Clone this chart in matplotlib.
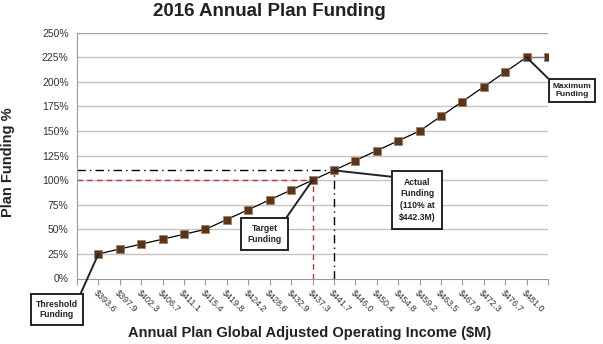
import matplotlib
matplotlib.use("Agg")
import matplotlib.pyplot as plt

plt.rcParams['font.family'] = ['Liberation Sans', 'DejaVu Sans']
plt.rcParams['text.parse_math'] = False

# ---- data ----
income_labels = ["$393.6", "$397.9", "$402.3", "$406.7", "$411.1", "$415.4",
                 "$419.8", "$424.2", "$428.6", "$432.9", "$437.3", "$441.7",
                 "$446.0", "$450.4", "$454.8", "$459.2", "$463.5", "$467.9",
                 "$472.3", "$476.7", "$481.0", ""]
funding_pct = [25, 30, 35, 40, 45, 50, 60, 70, 80, 90, 100, 110,
               120, 130, 140, 150, 165, 180, 195, 210, 225, 225]
y_ticks = [0, 25, 50, 75, 100, 125, 150, 175, 200, 225, 250]
target_idx = 10
actual_idx = 11
threshold_idx = 0
max_idx = 20

W, H = 603, 344
fig = plt.figure(figsize=(W / 100, H / 100), dpi=100)
ax = fig.add_axes([77 / W, 1 - 278.5 / H, 471 / W, 245.8 / H])

xs = list(range(1, len(funding_pct) + 1))

ax.set_xlim(0, len(funding_pct))
ax.set_ylim(0, 250)

# grid
for yv in y_ticks[1:]:
    ax.axhline(yv, color='#c4c4c4' if yv < 250 else '#a0a0a0', lw=1.0, zorder=0)

for s in ['top', 'right']:
    ax.spines[s].set_visible(False)
ax.spines['left'].set_color('#999999')
ax.spines['bottom'].set_color('#999999')

ax.set_yticks(y_ticks)
ax.set_yticklabels([f"{v}%" for v in y_ticks], fontsize=7.5, color='#333333')
ax.set_xticks(range(0, len(funding_pct) + 1))
ax.set_xticklabels([""] + income_labels, fontsize=6.5, color='#333333',
                   rotation=-45, ha='left', va='top', rotation_mode='anchor')
ax.tick_params(axis='x', direction='out', length=4, color='#999999', pad=3)
ax.tick_params(axis='y', length=0, pad=6)

# reference lines
tx, ty = xs[target_idx], funding_pct[target_idx]
axx, axy = xs[actual_idx], funding_pct[actual_idx]
ax.plot([0, tx], [ty, ty], color='#cc3333', lw=1.0, ls=(0, (4, 3)), zorder=2)
ax.plot([tx, tx], [0, ty], color='#cc3333', lw=1.0, ls=(0, (4, 3)), zorder=2)
ax.plot([0, axx], [axy, axy], color='black', lw=1.0, ls=(0, (6, 3, 1, 3)), zorder=2)
ax.plot([axx, axx], [0, axy], color='black', lw=1.0, ls=(0, (6, 3, 1, 3)), zorder=2)

# data line
ax.plot(xs[:-1], funding_pct[:-1], color='black', lw=0.9, zorder=3)
ax.plot(xs[-2:], funding_pct[-2:], color='#808080', lw=1.0, zorder=3)
ax.plot(xs, funding_pct, ls='none', marker='s', markersize=5.6,
        markerfacecolor='#5c3417', markeredgecolor='#9a7a60',
        markeredgewidth=0.5, zorder=4)

arrow_kw = dict(arrowstyle='-', color='#222222', lw=1.4, shrinkA=0, shrinkB=0)

def callout(text, idx, tx_, ty_, relpos, pad=0.6, ls=1.25, fs=6.2):
    box = dict(boxstyle=f'square,pad={pad}', fc='white', ec='#222222', lw=1.4)
    ax.annotate(text, xy=(xs[idx], funding_pct[idx]), xytext=(tx_, ty_),
                textcoords='data', ha='center', va='center', fontsize=fs,
                fontweight='bold', color='#222222', bbox=box,
                arrowprops=dict(relpos=relpos, **arrow_kw),
                annotation_clip=False, linespacing=ls, zorder=6)

callout("Threshold\nFunding", threshold_idx, -0.94, -31.5, (1, 1), pad=0.6)
callout("Target\nFunding", target_idx, 8.77, 45.4, (1, 1), pad=0.75)
callout("Actual\nFunding\n(110% at\n$442.3M)", actual_idx, 15.89, 80.1, (0, 1),
        pad=0.8, ls=1.4)
callout("Maximum\nFunding", max_idx, 23.12, 191.3, (0, 1), pad=0.45, fs=6)

fig.text(269 / W, 1 - 12 / H, "2016 Annual Plan Funding", ha='center',
         va='center', fontsize=13.5, fontweight='bold', color='#222222')
fig.text(8.5 / W, 1 - 162.5 / H, "Plan Funding %", ha='center', va='center',
         rotation=90, fontsize=10.5, fontweight='bold', color='#222222')
fig.text(310 / W, 1 - 333 / H, "Annual Plan Global Adjusted Operating Income ($M)",
         ha='center', va='center', fontsize=10.5, fontweight='bold', color='#222222')

fig.savefig("out.png", dpi=100)
